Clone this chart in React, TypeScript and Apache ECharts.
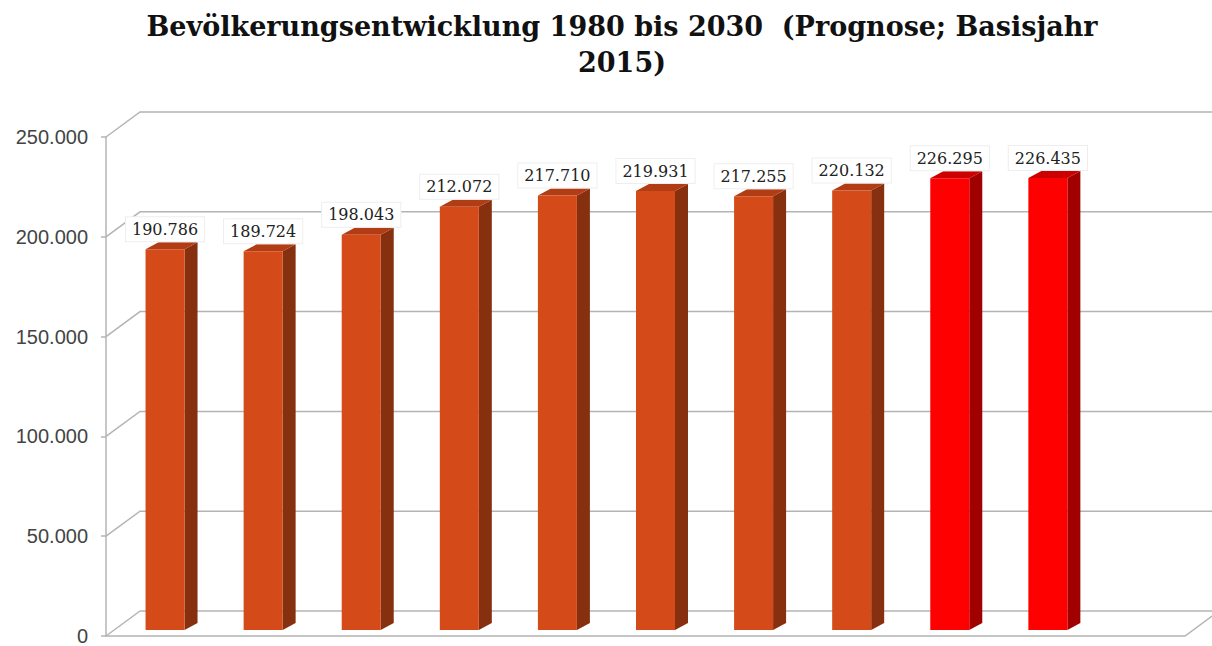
import React, { useEffect, useRef } from "react";
import * as echarts from "echarts";

const titleText = "Bevölkerungsentwicklung 1980 bis 2030  (Prognose; Basisjahr\n2015)";
const categories = ["1980", "1985", "1990", "1995", "2000", "2005", "2010", "2015", "2020", "2025", "2030"];
const population = [190786, 189724, 198043, 212072, 217710, 219931, 217255, 220132, 226295, 226435];
const isForecast = [false, false, false, false, false, false, false, false, true, true];
const yTicks = [0, 50000, 100000, 150000, 200000, 250000];

const fmt = (v: number) => String(Math.round(v)).replace(/\B(?=(\d{3})+(?!\d))/g, ".");

const DEPTH_X = 34;
const DEPTH_Y = -25;
const GRID_COLOR = "#b4b4b4";

export default function App() {
  const ref = useRef<HTMLDivElement>(null);
  useEffect(() => {
    document.body.style.margin = "0";
    const chart = echarts.init(ref.current!, null, { renderer: "svg" });
    const option: any = {
      animation: false,
      backgroundColor: "#ffffff",
      title: {
        text: titleText,
        left: 617,
        top: 3,
        textAlign: "center",
        textStyle: {
          fontFamily: "DejaVu Serif",
          fontWeight: "bold",
          fontSize: 27,
          lineHeight: 36,
          color: "#111",
        },
      },
      grid: { left: 106, right: 27, top: 137, bottom: 7 },
      xAxis: {
        type: "category",
        data: categories,
        axisLine: { show: false },
        axisTick: { show: false },
        axisLabel: { show: false },
        splitLine: { show: false },
      },
      yAxis: {
        type: "value",
        min: 0,
        max: 250000,
        interval: 50000,
        splitLine: { show: false },
        axisLine: { show: true, lineStyle: { color: GRID_COLOR, width: 1.5 } },
        axisTick: { show: true, length: 5, lineStyle: { color: GRID_COLOR, width: 1.5 } },
        axisLabel: {
          formatter: (v: number) => fmt(v),
          fontFamily: "Liberation Sans",
          fontSize: 20,
          color: "#444",
          margin: 18,
        },
      },
      series: [
        {
          type: "custom",
          clip: false,
          silent: true,
          z: 1,
          data: yTicks.map((v) => [0, v]),
          encode: { x: 0, y: 1 },
          renderItem: (params: any, api: any) => {
            const v = api.value(1);
            const cs = params.coordSys;
            const y = api.coord([0, v])[1];
            const gx = cs.x;
            const gw = cs.width;
            const pts =
              v === 0
                ? [
                    [gx + DEPTH_X, y + DEPTH_Y],
                    [gx + gw + DEPTH_X + 40, y + DEPTH_Y],
                  ]
                : [
                    [gx, y],
                    [gx + DEPTH_X, y + DEPTH_Y],
                    [gx + gw + DEPTH_X + 40, y + DEPTH_Y],
                  ];
            const children: any[] = [
              {
                type: "polyline",
                shape: { points: pts },
                style: { stroke: GRID_COLOR, lineWidth: 1.5, fill: null },
              },
            ];
            if (v === 0) {
              children.push({
                type: "polyline",
                shape: {
                  points: [
                    [gx, y],
                    [gx + DEPTH_X, y + DEPTH_Y],
                  ],
                },
                style: { stroke: GRID_COLOR, lineWidth: 1.5, fill: null },
              });
              children.push({
                type: "polyline",
                shape: {
                  points: [
                    [gx, y],
                    [gx + gw, y],
                    [gx + gw + DEPTH_X, y + DEPTH_Y],
                  ],
                },
                style: { stroke: GRID_COLOR, lineWidth: 1.5, fill: null },
                z2: 100,
              });
            }
            return { type: "group", children };
          },
        },
        {
          type: "custom",
          clip: false,
          z: 5,
          data: population.map((v, i) => [i, v]),
          encode: { x: 0, y: 1 },
          renderItem: (params: any, api: any) => {
            const i = api.value(0);
            const v = api.value(1);
            const forecast = isForecast[i];
            const front = forecast ? "#ff0000" : "#d44a18";
            const side = forecast ? "#a00000" : "#86300f";
            const top = forecast ? "#cc0000" : "#b23c13";
            const base = api.coord([i, 0]);
            const peak = api.coord([i, v]);
            const cx = base[0] + 10;
            const hw = 19.5;
            const x0 = cx - hw;
            const x1 = cx + hw;
            const yb = base[1] - 6;
            const yt = peak[1] - 6;
            const dx = 13;
            const dy = -7;
            return {
              type: "group",
              children: [
                {
                  type: "polygon",
                  shape: {
                    points: [
                      [x1, yb],
                      [x1 + dx, yb + dy],
                      [x1 + dx, yt + dy],
                      [x1, yt],
                    ],
                  },
                  style: { fill: side },
                },
                {
                  type: "polygon",
                  shape: {
                    points: [
                      [x0, yt],
                      [x1, yt],
                      [x1 + dx, yt + dy],
                      [x0 + dx, yt + dy],
                    ],
                  },
                  style: { fill: top },
                },
                {
                  type: "rect",
                  shape: { x: x0, y: yt, width: x1 - x0, height: yb - yt },
                  style: { fill: front },
                },
                {
                  type: "text",
                  x: cx,
                  y: yt - 20,
                  z2: 50,
                  style: {
                    text: fmt(v),
                    fill: "#222",
                    font: "16px 'DejaVu Serif'",
                    align: "center",
                    verticalAlign: "middle",
                    backgroundColor: "#ffffff",
                    borderColor: "#eeeeee",
                    borderWidth: 1,
                    padding: [4, 6],
                  },
                },
              ],
            };
          },
        },
      ],
    };
    chart.setOption(option);
    return () => chart.dispose();
  }, []);
  return <div ref={ref} style={{ width: 1212, height: 646 }} />;
}
